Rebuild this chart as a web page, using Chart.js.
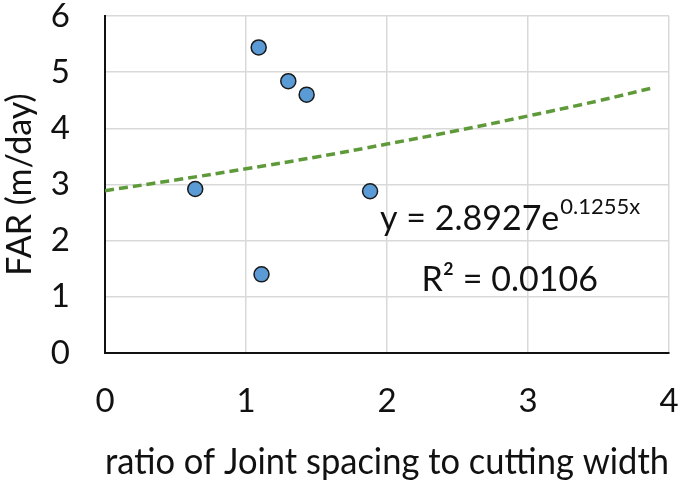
<!DOCTYPE html>
<html>
<head>
<meta charset="utf-8">
<script src="https://cdn.jsdelivr.net/npm/chart.js@4.4.1/dist/chart.umd.min.js"></script>
<style>
    html, body { margin: 0; padding: 0; background: #fff; }
    #wrap { width: 685px; height: 486px; }
</style>
</head>
<body>
<div id="wrap"><canvas id="grafico" width="685" height="486"></canvas></div>
<script>
// pontos medidos
const pontosX = [0.64, 1.09, 1.30, 1.43, 1.88, 1.11];
const pontosY = [2.92, 5.44, 4.84, 4.60, 2.88, 1.40];

// linha de tendencia
const tendX = [0, 0.5, 1, 1.5, 2, 2.5, 3, 3.5, 3.9];
const tendY = [2.89, 3.08, 3.28, 3.49, 3.72, 3.96, 4.22, 4.49, 4.73];

// textos
const tituloX = "ratio of Joint spacing to cutting width";
const tituloY = "FAR (m/day)";
const equacaoBase = "y = 2.8927e";
const equacaoExp = "0.1255x";
const textoR2 = "R² = 0.0106";

const fonte = "Lato, 'Open Sans', sans-serif";

// desenha a equacao da tendencia
const pluginEquacao = {
    id: "equacao",
    afterDatasetsDraw(chart) {
        const { ctx, scales } = chart;
        const cx = scales.x.getPixelForValue(2.87);
        const y1 = scales.y.getPixelForValue(2.39);
        const y2 = scales.y.getPixelForValue(1.30);
        ctx.save();
        ctx.fillStyle = "#111";
        ctx.textBaseline = "middle";
        ctx.textAlign = "left";
        ctx.font = "34px " + fonte;
        const w1 = ctx.measureText(equacaoBase).width;
        ctx.font = "22px " + fonte;
        const w2 = ctx.measureText(equacaoExp).width;
        const x0 = cx - (w1 + w2) / 2;
        ctx.font = "34px " + fonte;
        ctx.fillText(equacaoBase, x0, y1);
        ctx.font = "22px " + fonte;
        ctx.fillText(equacaoExp, x0 + w1 + 1, y1 - 12);
        ctx.font = "34px " + fonte;
        ctx.textAlign = "center";
        ctx.fillText(textoR2, cx, y2);
        ctx.restore();
    }
};

const ctx = document.getElementById("grafico").getContext("2d");
new Chart(ctx, {
    type: "scatter",
    data: {
        datasets: [
            {
                label: "pontos",
                data: pontosX.map((x, i) => ({ x: x, y: pontosY[i] })),
                backgroundColor: "#5b9bd5",
                borderColor: "#1a1a1a",
                borderWidth: 1.5,
                pointRadius: 7.5,
                order: 1
            },
            {
                label: "tendencia",
                type: "line",
                data: tendX.map((x, i) => ({ x: x, y: tendY[i] })),
                borderColor: "#5f9a3a",
                borderWidth: 3.5,
                borderDash: [9, 5],
                pointRadius: 0,
                tension: 0.4,
                fill: false,
                order: 2
            }
        ]
    },
    options: {
        responsive: false,
        animation: false,
        layout: { padding: { top: 16, right: 16, left: 0, bottom: 0 } },
        plugins: {
            legend: { display: false },
            tooltip: { enabled: false }
        },
        scales: {
            x: {
                type: "linear",
                min: 0,
                max: 4,
                afterFit: s => { s.height = 133; s.paddingLeft = 0; s.paddingRight = 0; },
                ticks: { stepSize: 1, padding: 29, color: "#111", font: { family: fonte, size: 33 } },
                grid: { color: "#d9d9d9", lineWidth: 1.5, drawTicks: false },
                border: { color: "#111", width: 2 },
                title: { display: true, text: tituloX, color: "#111", padding: { top: 0, bottom: 2 }, font: { family: fonte, size: 37 } }
            },
            y: {
                min: 0,
                max: 6,
                afterFit: s => { s.width = 105; s.paddingTop = 0; s.paddingBottom = 0; },
                ticks: { stepSize: 1, padding: 35, color: "#111", font: { family: fonte, size: 33 } },
                grid: { color: "#d9d9d9", lineWidth: 1.5, drawTicks: false },
                border: { color: "#111", width: 2 },
                title: { display: true, text: tituloY, color: "#111", padding: 0, font: { family: fonte, size: 34 } }
            }
        }
    },
    plugins: [pluginEquacao]
});
</script>
</body>
</html>
